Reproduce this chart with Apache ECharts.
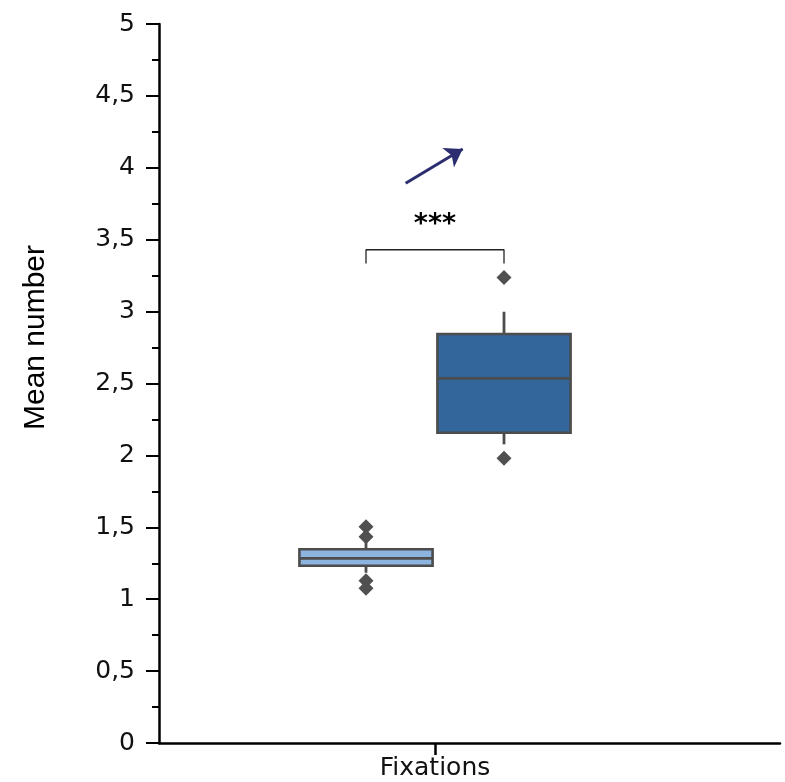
<!DOCTYPE html>
<html>
<head>
<meta charset="utf-8">
<script src="https://cdn.jsdelivr.net/npm/echarts@6/dist/echarts.min.js"></script>
<style>
  html, body { margin: 0; padding: 0; background: #ffffff; }
  #chart { width: 785px; height: 782px; }
</style>
</head>
<body>
<div id="chart"></div>
<script>
// ---------- data ----------
const measureLabel = 'Fixations';
const groups = ['Group 1', 'Group 2'];
const whiskerLow  = [1.184, 2.077];
const quartile1   = [1.233, 2.158];
const medians     = [1.284, 2.536];
const quartile3   = [1.347, 2.844];
const whiskerHigh = [1.400, 2.999];
const outliers    = [[1.504, 1.435, 1.129, 1.076], [3.238, 1.980]];
const yAxisName = 'Mean number';
const yMin = 0, yMax = 5, yStep = 0.5;
const significance = '***';
const bracketTop = 3.43, bracketFoot = 3.335, starLevel = 3.60;
const arrowFrom = [3.575, 3.892], arrowTo = [4.401, 4.131];

// ---------- layout (in axis units) ----------
const X_MAX = 9, MEASURE_X = 4, GROUP_OFFSET = 1, BOX_WIDTH = 1.93;
const groupX = groups.map((g, i) => MEASURE_X + (i === 0 ? -GROUP_OFFSET : GROUP_OFFSET));
const boxFills = ['#8db4df', '#33669b'];
const boxStroke = '#4d4d4d';

const boxData = groups.map((g, i) => [groupX[i], whiskerLow[i], quartile1[i], medians[i], quartile3[i], whiskerHigh[i]]);
const outlierData = [];
outliers.forEach((list, i) => list.forEach(v => outlierData.push([groupX[i], v])));

const chart = echarts.init(document.getElementById('chart'), null, { renderer: 'canvas' });
const tickFont = 'DejaVu Sans';

chart.setOption({
  animation: false,
  backgroundColor: '#ffffff',
  grid: { left: 159, right: 5, top: 24, bottom: 39, containLabel: false },
  xAxis: {
    type: 'value', min: 0, max: X_MAX,
    splitLine: { show: false },
    axisLine: { show: true, onZero: false, lineStyle: { color: '#000', width: 2.5 } },
    axisTick: { show: true, customValues: [MEASURE_X], length: 12, lineStyle: { color: '#000', width: 2.5 } },
    axisLabel: { show: true, customValues: [MEASURE_X], formatter: () => measureLabel, margin: 13,
                 color: '#111', fontFamily: tickFont, fontSize: 25 }
  },
  yAxis: {
    type: 'value', min: yMin, max: yMax, interval: yStep,
    name: yAxisName, nameLocation: 'middle', nameGap: 108, nameRotate: 90,
    nameTextStyle: { fontFamily: 'Liberation Sans', fontSize: 30, color: '#000', padding: [0, 0, 0, 92] },
    splitLine: { show: false },
    axisLine: { show: true, onZero: false, lineStyle: { color: '#000', width: 2.5 } },
    axisTick: { show: true, length: 13, lineStyle: { color: '#000', width: 2 } },
    minorTick: { show: true, splitNumber: 2, length: 7, lineStyle: { color: '#000', width: 2 } },
    axisLabel: { margin: 24, color: '#111', fontFamily: tickFont, fontSize: 25,
                 formatter: v => String(v).replace('.', ',') }
  },
  series: [
    {
      type: 'custom',
      data: boxData,
      encode: { x: 0, y: [1, 2, 3, 4, 5] },
      z: 3,
      renderItem: function (params, api) {
        const x = api.value(0);
        const lo = api.coord([x, api.value(1)]);
        const a = api.coord([x, api.value(2)]);
        const m = api.coord([x, api.value(3)]);
        const b = api.coord([x, api.value(4)]);
        const hi = api.coord([x, api.value(5)]);
        const halfW = api.size([BOX_WIDTH, 0])[0] / 2;
        const ls = { stroke: boxStroke, lineWidth: 2.8 };
        return {
          type: 'group',
          children: [
            { type: 'line', shape: { x1: lo[0], y1: lo[1], x2: a[0], y2: a[1] }, style: ls },
            { type: 'line', shape: { x1: b[0], y1: b[1], x2: hi[0], y2: hi[1] }, style: ls },
            { type: 'rect', shape: { x: b[0] - halfW, y: b[1], width: halfW * 2, height: a[1] - b[1] },
              style: { fill: boxFills[params.dataIndex], stroke: boxStroke, lineWidth: 2.6 } },
            { type: 'line', shape: { x1: m[0] - halfW, y1: m[1], x2: m[0] + halfW, y2: m[1] }, style: ls }
          ]
        };
      }
    },
    {
      type: 'scatter',
      data: outlierData,
      symbol: 'diamond',
      symbolSize: [15, 15],
      itemStyle: { color: '#505050', opacity: 1 },
      z: 4
    },
    {
      type: 'line',
      data: [[groupX[0], bracketFoot], [groupX[0], bracketTop], [groupX[1], bracketTop], [groupX[1], bracketFoot]],
      symbol: 'none',
      lineStyle: { color: '#222', width: 1.3 },
      z: 2
    },
    {
      type: 'scatter',
      data: [[MEASURE_X, starLevel]],
      symbolSize: 1,
      itemStyle: { opacity: 0 },
      label: { show: true, position: 'inside', formatter: significance,
               fontFamily: 'DejaVu Sans', fontSize: 27, fontWeight: 'bold', color: '#000', opacity: 1 }
    },
    {
      type: 'lines',
      coordinateSystem: 'cartesian2d',
      data: [{ coords: [arrowFrom, arrowTo] }],
      symbol: ['none', 'arrow'],
      symbolSize: 17,
      lineStyle: { color: '#2b2d6e', width: 3, opacity: 1 },
      z: 5
    }
  ]
});
</script>
</body>
</html>
